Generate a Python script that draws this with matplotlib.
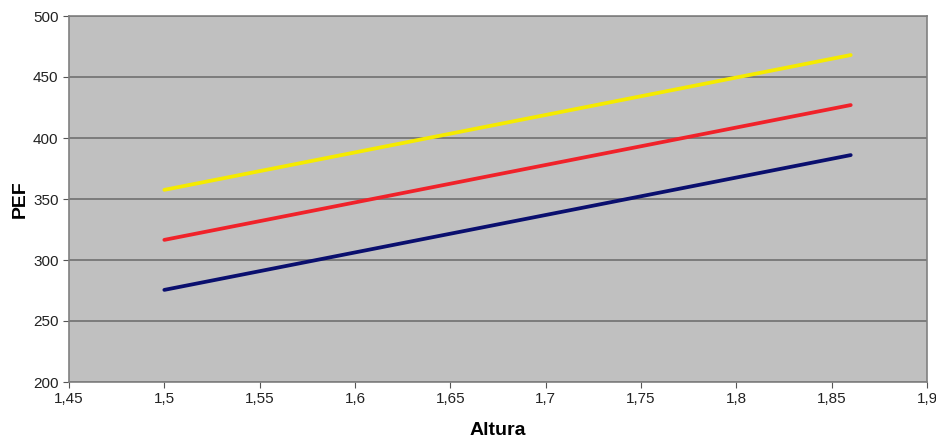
import matplotlib
matplotlib.use("Agg")
import matplotlib.pyplot as plt
from matplotlib.ticker import FuncFormatter

plt.rcParams['font.family'] = ['Liberation Sans', 'DejaVu Sans']

altura = [1.50, 1.86]
pef_yellow = [357.5, 468.0]
pef_red = [316.5, 427.0]
pef_blue = [275.5, 386.0]

fig = plt.figure(figsize=(9.37, 4.37), dpi=100)
ax = fig.add_axes([69/937, 55/437, 858/937, 366/437])
ax.set_facecolor('#C0C0C0')

ax.plot(altura, pef_yellow, color='#F5EB00', lw=2.7, solid_capstyle='round', zorder=3)
ax.plot(altura, pef_red, color='#F0222A', lw=2.7, solid_capstyle='round', zorder=3)
ax.plot(altura, pef_blue, color='#0A0F6E', lw=2.7, solid_capstyle='round', zorder=3)

ax.set_xlim(1.45, 1.9)
ax.set_ylim(200, 500)
ax.set_xticks([1.45, 1.5, 1.55, 1.6, 1.65, 1.7, 1.75, 1.8, 1.85, 1.9])
ax.set_yticks([200, 250, 300, 350, 400, 450, 500])
ax.xaxis.set_major_formatter(FuncFormatter(lambda v, p: ('%g' % round(v, 2)).replace('.', ',')))
ax.yaxis.set_major_formatter(FuncFormatter(lambda v, p: '%d' % v))
ax.yaxis.grid(True, color='#707070', lw=1.2)
ax.set_axisbelow(True)
for s in ax.spines.values():
    s.set_color('#808080')
    s.set_linewidth(1.2)
ax.tick_params(direction='out', length=4, color='#555555', labelsize=11, labelcolor='#222222')
ax.set_xlabel('Altura', fontsize=14, fontweight='bold', labelpad=11)
ax.set_ylabel('PEF', fontsize=14, fontweight='bold', labelpad=3)

fig.savefig('out.png', dpi=100)
